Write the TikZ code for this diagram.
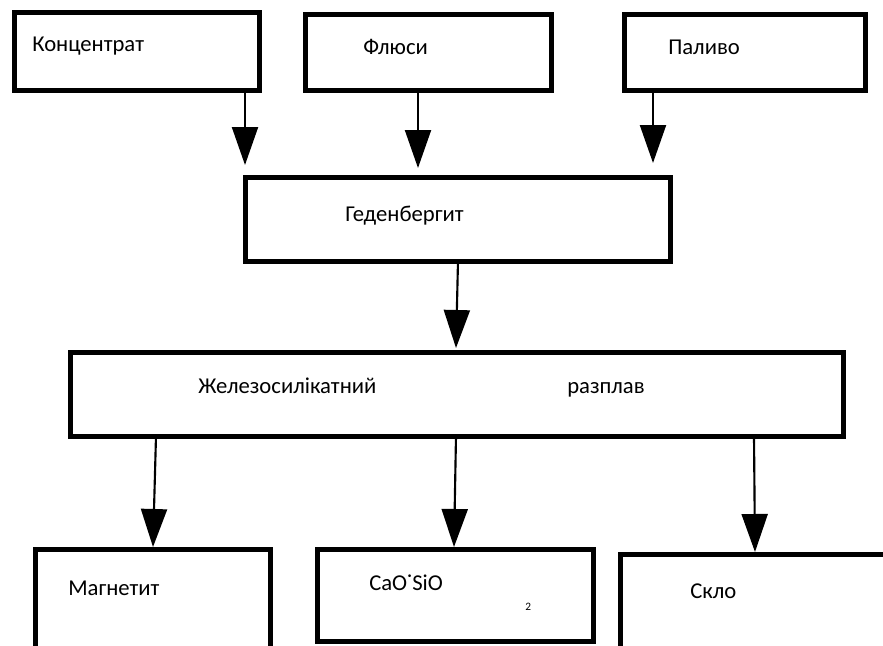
\documentclass[tikz,border=0pt]{standalone}
\usepackage{fontspec}
\setmainfont{Carlito}
\usetikzlibrary{arrows.meta}
\tikzset{
  box/.style 2 args={draw, line width=3.75pt, rectangle, inner sep=0pt, outer sep=0pt,
    minimum width=#1*0.75pt, minimum height=#2*0.75pt},
  lbl/.style={anchor=base west, inner sep=0pt, font=\fontsize{17}{20}\selectfont},
  sub/.style={anchor=base west, inner sep=0pt, font=\fontsize{8.5}{10}\selectfont},
  arr/.style={line width=1.6pt, -{Triangle[width=19.5pt,length=28.5pt]}}
}
\begin{document}
\begin{tikzpicture}[x=0.75pt,y=-0.75pt]
\useasboundingbox (0,0) rectangle (883,646);
\clip (0,0) rectangle (883,646);
% boxes
\node[box={245}{78}] (b1) at (136.5,51) {};
\node[box={246}{76}] (b2) at (428,52) {};
\node[box={241}{76}] (b3) at (744.5,52) {};
\node[box={425}{84}] (b4) at (457.5,219) {};
\node[box={773}{84}] (b5) at (456.5,394) {};
\node[box={235}{100}] (b6) at (152.5,599) {};
\node[box={276}{92}] (b7) at (455,595) {};
\node[box={280}{96}] (b8) at (760,602) {};
% texts
\node[lbl] (t1) at (32,51) {Концентрат};
\node[lbl] (t2) at (363,55) {Флюси};
\node[lbl] (t3) at (668,55) {Паливо};
\node[lbl] (t4) at (345,221) {Геденбергит};
\node[lbl] (t5a) at (198,393) {Железосилікатний};
\node[lbl] (t5b) at (567,393) {разплав};
\node[lbl] (t6) at (68,595) {Магнетит};
\node[lbl] (t7) at (369,590) {CaO˙SiO};
\node[sub] (t7s) at (525,610) {2};
\node[lbl] (t8) at (690,598) {Скло};
% arrow tips
\coordinate (p1) at (245,165);
\coordinate (p2) at (418,168);
\coordinate (p3) at (653,163);
\coordinate (q1) at (245,0);
\coordinate (q2) at (418,0);
\coordinate (q3) at (653,0);
\draw[arr] (b1.south -| q1) -- (p1);
\draw[arr] (b2.south -| q2) -- (p2);
\draw[arr] (b3.south -| q3) -- (p3);
\coordinate (s4) at (458,0);
\draw[arr] (b4.south -| s4) -- (456,348);
\coordinate (s5) at (156,0);
\coordinate (s6) at (456,0);
\coordinate (s7) at (754,0);
\coordinate (e5) at (153,547);
\coordinate (e6) at (454,547);
\coordinate (e7) at (755,552);
\draw[arr] (b5.south -| s5) -- (e5);
\draw[arr] (b5.south -| s6) -- (e6);
\draw[arr] (b5.south -| s7) -- (e7);
\end{tikzpicture}
\end{document}
